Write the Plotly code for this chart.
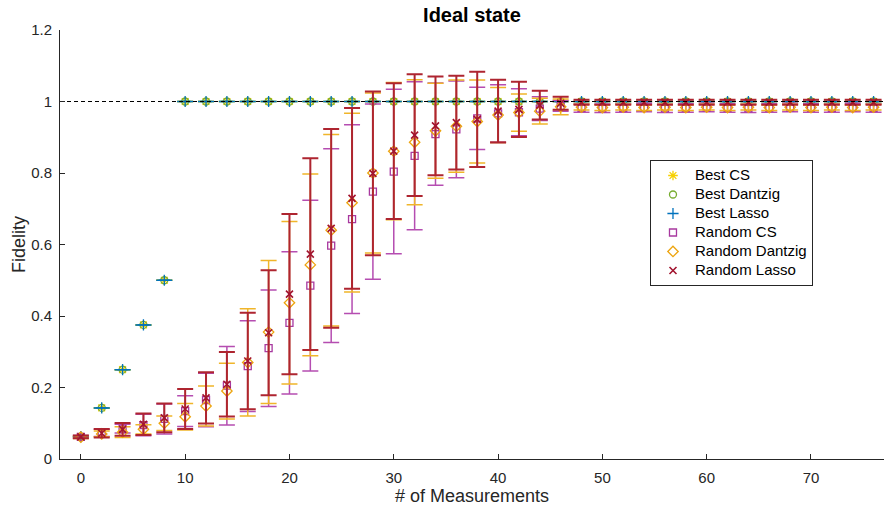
import plotly.graph_objects as go

# Number of measurements (even counts 0..76)
n_meas = list(range(0, 78, 2))

# Fidelity of the best-case reconstructions (identical for all three solvers)
best_fid = [0.0625, 0.1429, 0.25, 0.375, 0.5] + [1.0] * 34

# Random measurement sets: mean fidelity and standard deviation
rand_cs_mean = [0.062, 0.073, 0.085, 0.095, 0.112, 0.134, 0.165, 0.205, 0.26, 0.31,
                0.381, 0.485, 0.597, 0.671, 0.748, 0.804, 0.848, 0.909, 0.922, 0.953,
                0.967, 0.970, 0.980, 0.988, 0.982, 0.981, 0.982, 0.983, 0.981, 0.982,
                0.983, 0.982, 0.981, 0.982, 0.983, 0.982, 0.982, 0.983, 0.982]
rand_cs_std = [0.004, 0.010, 0.012, 0.030, 0.042, 0.043, 0.075, 0.110, 0.127, 0.163,
               0.199, 0.239, 0.271, 0.264, 0.245, 0.230, 0.207, 0.143, 0.135, 0.087,
               0.080, 0.066, 0.033, 0.015, 0.012, 0.012, 0.012, 0.012, 0.012, 0.012,
               0.012, 0.012, 0.012, 0.012, 0.012, 0.012, 0.012, 0.012, 0.012]

rand_dz_mean = [0.061, 0.070, 0.075, 0.083, 0.100, 0.118, 0.148, 0.190, 0.270, 0.355,
                0.437, 0.543, 0.640, 0.717, 0.800, 0.861, 0.886, 0.918, 0.931, 0.944,
                0.962, 0.969, 0.973, 0.985, 0.984, 0.983, 0.984, 0.983, 0.984, 0.983,
                0.984, 0.983, 0.984, 0.983, 0.984, 0.983, 0.984, 0.983, 0.984]
rand_dz_std = [0.004, 0.008, 0.015, 0.013, 0.020, 0.037, 0.056, 0.078, 0.150, 0.200,
               0.227, 0.254, 0.268, 0.250, 0.224, 0.192, 0.175, 0.133, 0.129, 0.116,
               0.077, 0.052, 0.036, 0.022, 0.008, 0.008, 0.008, 0.008, 0.008, 0.008,
               0.008, 0.008, 0.008, 0.008, 0.008, 0.008, 0.008, 0.008, 0.008]

rand_la_mean = [0.062, 0.072, 0.083, 0.097, 0.115, 0.140, 0.171, 0.209, 0.274, 0.353,
                0.461, 0.573, 0.645, 0.729, 0.799, 0.861, 0.906, 0.932, 0.941, 0.950,
                0.973, 0.978, 0.990, 0.995, 0.998, 0.998, 0.998, 0.998, 0.998, 0.998,
                0.998, 0.998, 0.998, 0.998, 0.998, 0.998, 0.998, 0.998, 0.998]
rand_la_std = [0.004, 0.012, 0.018, 0.030, 0.040, 0.056, 0.072, 0.090, 0.135, 0.175,
               0.224, 0.268, 0.278, 0.253, 0.229, 0.190, 0.170, 0.138, 0.131, 0.133,
               0.088, 0.077, 0.040, 0.018, 0.007, 0.007, 0.007, 0.007, 0.007, 0.007,
               0.007, 0.007, 0.007, 0.007, 0.007, 0.007, 0.007, 0.007, 0.007]

zero_err = [0.0] * len(n_meas)

FONT = "Liberation Sans, Arial, Helvetica, sans-serif"
AX = "#262626"

fig = go.Figure()


def legend_label(text):
    # compact legend rows with full-size entry text
    return f'<span style="font-size:15px">{text}</span>'


def add_series(name, y, err, symbol, mcolor, ecolor, ewidth, msize=8, mline=1.3):
    fig.add_trace(go.Scatter(
        x=n_meas, y=y, mode="markers", name=legend_label(name),
        marker=dict(symbol=symbol, size=msize, color=mcolor,
                    line=dict(color=mcolor, width=mline)),
        error_y=dict(type="data", array=err, visible=True, color=ecolor,
                     thickness=ewidth, width=8),
    ))


add_series("Best CS", best_fid, zero_err, "asterisk-open", "#F7D000", "#F7D000", 1.5)
add_series("Best Dantzig", best_fid, zero_err, "circle-open", "#77AC30", "#77AC30", 1.5, msize=7)
add_series("Best Lasso", best_fid, zero_err, "cross-thin-open", "#0072BD", "#0072BD", 1.5, msize=8)
add_series("Random CS", rand_cs_mean, rand_cs_std, "square-open", "#A8389F", "#B54DB1", 1.5, msize=7)
add_series("Random Dantzig", rand_dz_mean, rand_dz_std, "diamond-open", "#EDA40E", "#F0B52A", 1.5)
add_series("Random Lasso", rand_la_mean, rand_la_std, "x-thin-open", "#A2142F", "#AE2530", 2.0, msize=7, mline=1.6)

# ideal fidelity reference line
fig.add_trace(go.Scatter(
    x=[-2, 77], y=[1, 1], mode="lines", showlegend=False, hoverinfo="skip",
    line=dict(color="black", width=1.2, dash="4px,3px"),
))

fig.update_layout(
    width=886, height=516,
    margin=dict(l=60, r=2, t=30, b=57),
    paper_bgcolor="white", plot_bgcolor="white",
    font=dict(family=FONT, size=15, color=AX),
    title=dict(text="<b>Ideal state</b>", x=0.5, xref="paper", y=0.971,
               yanchor="middle", font=dict(size=20, color="black")),
    showlegend=True,
    legend=dict(x=0.716, y=0.697, xanchor="left", yanchor="top",
                bgcolor="white", bordercolor=AX, borderwidth=1,
                font=dict(size=12, color="black"), tracegroupgap=0,
                itemwidth=34),
)

fig.update_xaxes(
    range=[-2, 77], tickvals=[0, 10, 20, 30, 40, 50, 60, 70],
    showline=True, linecolor=AX, linewidth=1, mirror=False,
    ticks="inside", ticklen=5, tickcolor=AX, showgrid=False, zeroline=False,
    title=dict(text="# of Measurements", font=dict(size=18), standoff=4),
    tickfont=dict(size=15), ticklabelstandoff=5,
)
fig.update_yaxes(
    range=[0, 1.2], tickvals=[0, 0.2, 0.4, 0.6, 0.8, 1, 1.2],
    ticktext=["0", "0.2", "0.4", "0.6", "0.8", "1", "1.2"],
    showline=True, linecolor=AX, linewidth=1, mirror=False,
    ticks="inside", ticklen=5, tickcolor=AX, showgrid=False, zeroline=False,
    title=dict(text="Fidelity", font=dict(size=18), standoff=0),
    tickfont=dict(size=15), ticklabelstandoff=4,
)

fig.write_html("out.html")
